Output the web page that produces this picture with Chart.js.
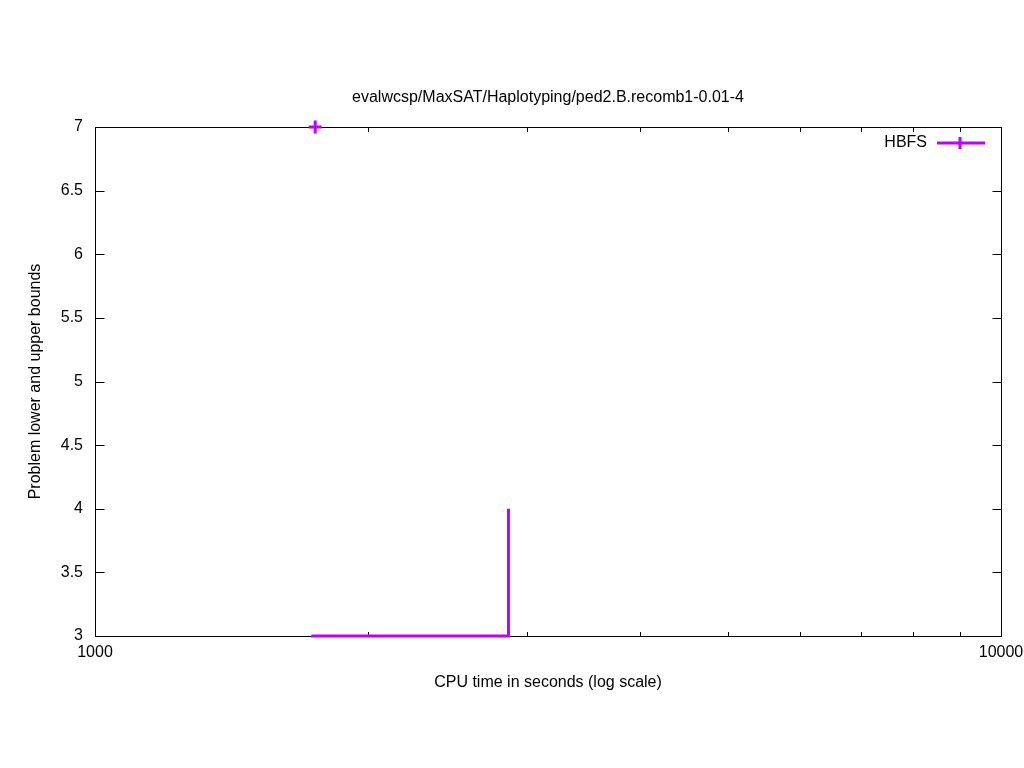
<!DOCTYPE html>
<html>
<head>
<meta charset="utf-8">
<style>
  html, body { margin: 0; padding: 0; background: #fff; }
  canvas { display: block; }
</style>
<script src="https://cdn.jsdelivr.net/npm/chart.js@4/dist/chart.umd.min.js"></script>
</head>
<body>
<canvas id="chart" width="1024" height="768"></canvas>
<script>
// ── Daten ──────────────────────────────────────────────────────────────────

const TITLE = 'evalwcsp/MaxSAT/Haplotyping/ped2.B.recomb1-0.01-4';
const X_LABEL = 'CPU time in seconds (log scale)';
const Y_LABEL = 'Problem lower and upper bounds';

// obere Schranke (einzelner Punkt)
const upperTimes  = [1750];
const upperBounds = [7];

// untere Schranke (Treppe)
const lowerTimes  = [1733, 2860, 2860];
const lowerBounds = [3, 3, 4];

// kleine Punkte auf der x-Achse
const dotTimes  = [1741, 1827, 1898, 2003];
const dotValues = [3, 3, 3, 3];
const dotColors = ['#f0d040', '#203070', '#e8a040', '#30d0c0'];

const xTickValues = [1000, 2000, 3000, 4000, 5000, 6000, 7000, 8000, 9000, 10000];
const xLabelTicks = [1000, 10000];
const yMin = 3, yMax = 7, yStep = 0.5;

const PURPLE = '#c000ff';
const FONT = '"Liberation Sans", Arial, sans-serif';

const zip = (xs, ys) => xs.map((x, i) => ({ x, y: ys[i] }));

// ── Rahmen + Ticks im gnuplot-Stil ─────────────────────────────────────────

const framePlugin = {
    id: 'frame',
    beforeDatasetsDraw(chart) {
        const { ctx, chartArea: a, scales } = chart;
        const L = Math.round(a.left) + 0.5, R = Math.round(a.right) + 0.5;
        const T = Math.round(a.top) + 0.5,  B = Math.round(a.bottom) + 0.5;
        ctx.save();
        ctx.strokeStyle = '#000';
        ctx.lineWidth = 1;
        ctx.beginPath();
        scales.y.ticks.forEach(t => {
            const p = Math.round(scales.y.getPixelForValue(t.value)) + 0.5;
            ctx.moveTo(L, p); ctx.lineTo(L + 9, p);
            ctx.moveTo(R, p); ctx.lineTo(R - 9, p);
        });
        scales.x.ticks.forEach(t => {
            const p = Math.round(scales.x.getPixelForValue(t.value)) + 0.5;
            const len = xLabelTicks.includes(t.value) ? 9 : 4.5;
            ctx.moveTo(p, B); ctx.lineTo(p, B - len);
            ctx.moveTo(p, T); ctx.lineTo(p, T + len);
        });
        ctx.stroke();
        ctx.strokeRect(L, T, R - L, B - T);
        ctx.restore();
    },
    afterDraw(chart) {
        const { ctx, chartArea: a } = chart;
        const ds = chart.data.datasets[0];
        const y = a.top + 16;
        ctx.save();
        ctx.font = '16px ' + FONT;
        ctx.fillStyle = '#000';
        ctx.textAlign = 'right';
        ctx.textBaseline = 'middle';
        ctx.fillText(ds.label, a.right - 74, y);
        ctx.strokeStyle = ds.borderColor;
        ctx.lineWidth = 3;
        ctx.beginPath();
        ctx.moveTo(a.right - 64, y); ctx.lineTo(a.right - 16, y);
        ctx.moveTo(a.right - 41, y - 6); ctx.lineTo(a.right - 41, y + 6);
        ctx.stroke();
        ctx.restore();
    },
};

// ── Chart ──────────────────────────────────────────────────────────────────

Chart.defaults.font.family = FONT;
Chart.defaults.font.size = 16;
Chart.defaults.color = '#000';

new Chart(document.getElementById('chart'), {
    type: 'scatter',
    data: {
        datasets: [
            {
                label: 'HBFS',
                data: zip(lowerTimes, lowerBounds),
                showLine: true,
                borderColor: PURPLE,
                backgroundColor: PURPLE,
                borderWidth: 3,
                pointRadius: 0,
                tension: 0,
                clip: false,
            },
            {
                label: 'HBFS upper',
                data: zip(upperTimes, upperBounds),
                showLine: false,
                pointStyle: 'cross',
                pointRadius: 6.5,
                borderColor: PURPLE,
                borderWidth: 3,
                clip: false,
            },
            {
                label: 'dots',
                data: zip(dotTimes, dotValues),
                showLine: false,
                pointStyle: 'rect',
                pointRadius: 1.2,
                borderWidth: 0,
                backgroundColor: dotColors,
                clip: false,
            },
        ],
    },
    options: {
        responsive: false,
        animation: false,
        layout: { padding: { left: 0, right: 23, top: 0, bottom: 0 } },
        plugins: {
            legend: { display: false },
            tooltip: { enabled: false },
            title: {
                display: true,
                text: TITLE,
                fullSize: false,
                color: '#000',
                font: { size: 16, weight: 'normal' },
                padding: { top: 88.4, bottom: 19.4 },
            },
        },
        scales: {
            x: {
                type: 'logarithmic',
                min: 1000,
                max: 10000,
                grid: { display: false, drawTicks: false },
                border: { display: false },
                afterBuildTicks(s) { s.ticks = xTickValues.map(value => ({ value })); },
                ticks: {
                    autoSkip: false,
                    maxRotation: 0,
                    padding: 7,
                    callback: v => xLabelTicks.includes(v) ? String(v) : '',
                },
                title: {
                    display: true,
                    text: X_LABEL,
                    padding: { top: 0, bottom: 75.4 },
                },
                afterFit(s) {
                    s.height = 132;
                    s.paddingLeft = 0;
                    s.paddingRight = 0;
                },
            },
            y: {
                min: yMin,
                max: yMax,
                grid: { display: false, drawTicks: false },
                border: { display: false },
                ticks: {
                    stepSize: yStep,
                    padding: 12,
                    callback: v => String(v),
                },
                title: {
                    display: true,
                    text: Y_LABEL,
                    padding: { top: 26.4, bottom: 0 },
                },
                afterFit(s) {
                    s.width = 95;
                    s.paddingTop = 0;
                    s.paddingBottom = 0;
                },
            },
        },
    },
    plugins: [framePlugin],
});
</script>
</body>
</html>
